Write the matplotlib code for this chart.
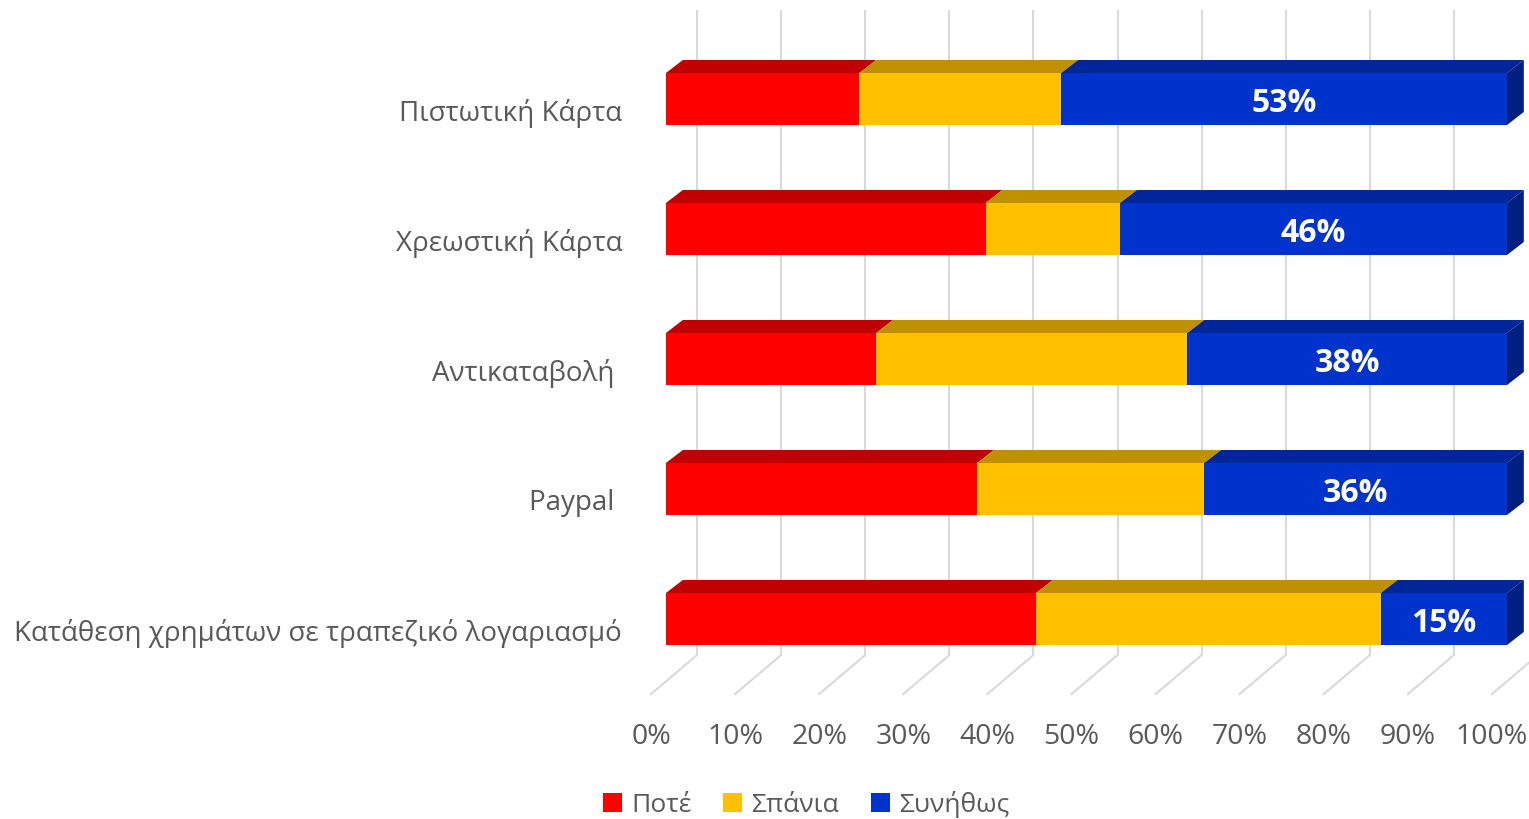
import matplotlib.pyplot as plt
from matplotlib.patches import Polygon, Patch

# chart data (percentages)
categories = ['Πιστωτική Κάρτα', 'Χρεωστική Κάρτα', 'Αντικαταβολή ', 'Paypal ',
              'Κατάθεση χρημάτων σε τραπεζικό λογαριασμό']
never = [23, 38, 25, 37, 44]
rarely = [24, 16, 37, 27, 41]
usually = [53, 46, 38, 36, 15]
series_names = ['Ποτέ', 'Σπάνια', 'Συνήθως']
tick_values = list(range(0, 101, 10))
tick_labels = [f'{v}%' for v in tick_values]

# colours: front faces, top faces, right side
front_colors = ['#FF0000', '#FFC000', '#0033CC']
top_colors = ['#C00000', '#BF9000', '#002699']
side_color = '#001F80'
grid_color = '#D9D9D9'
text_color = '#595959'

plt.rcParams['font.family'] = ['Open Sans', 'DejaVu Sans']

fig = plt.figure(figsize=(15.29, 8.19), dpi=100)
ax = fig.add_axes([666 / 1529, 1 - 684 / 819, 841 / 1529, 650 / 819])
ax.set_xlim(0, 100)
ax.set_ylim(4.5, -0.5)
ax.axis('off')

# fake 3D depth (data units)
DX, DY = 2.0, -0.1
H = 0.4
wall_dx, wall_y, wall_top = 3.69, 4.277, -0.685
floor_dx, floor_y = -1.78, 4.577

# back wall and floor gridlines
for v, lab in zip(tick_values, tick_labels):
    ax.plot([v + wall_dx, v + wall_dx], [wall_top, wall_y], color=grid_color,
            lw=1.5, zorder=0, clip_on=False, solid_capstyle='butt')
    ax.plot([v + wall_dx, v + floor_dx], [wall_y, floor_y], color=grid_color,
            lw=1.5, zorder=0, clip_on=False)
    ax.text(v + floor_dx, 4.91, lab, ha='center', va='center',
            fontsize=20.5, color=text_color)

ys = list(range(len(categories)))
series = [never, rarely, usually]
lefts = [0] * len(categories)
for s, vals in enumerate(series):
    ax.barh(ys, vals, left=lefts, height=H, color=front_colors[s], zorder=3)
    for y, l, w in zip(ys, lefts, vals):
        yt = y - H / 2
        ax.add_patch(Polygon([(l, yt), (l + w, yt), (l + w + DX, yt + DY), (l + DX, yt + DY)],
                             closed=True, facecolor=top_colors[s], edgecolor='none',
                             zorder=3, clip_on=False))
    lefts = [l + w for l, w in zip(lefts, vals)]

# right side of the bars
for y, total in zip(ys, lefts):
    ax.add_patch(Polygon([(total, y - H / 2), (total + DX, y - H / 2 + DY),
                          (total + DX, y + H / 2 + DY), (total, y + H / 2)],
                         closed=True, facecolor=side_color, edgecolor='none',
                         zorder=3, clip_on=False))

# labels on the blue segment
for y, w, v in zip(ys, lefts, usually):
    ax.text(w - v / 2, y + 0.035, f'{v}%', ha='center', va='center',
            fontsize=23, fontweight='bold', color='white', zorder=5)

# category labels
for y, name in zip(ys, categories):
    ax.text(-5.23, y + 0.11, name, ha='right', va='center', fontsize=20,
            color=text_color)

handles = [Patch(facecolor=c, edgecolor='none') for c in front_colors]
fig.legend(handles, series_names, loc='center', bbox_to_anchor=(806 / 1529, 1 - 804 / 819),
           ncol=3, frameon=False, fontsize=19, labelcolor=text_color,
           handlelength=0.72, handleheight=0.72, handletextpad=0.35, columnspacing=1.2)

fig.savefig('out.png', dpi=100)
